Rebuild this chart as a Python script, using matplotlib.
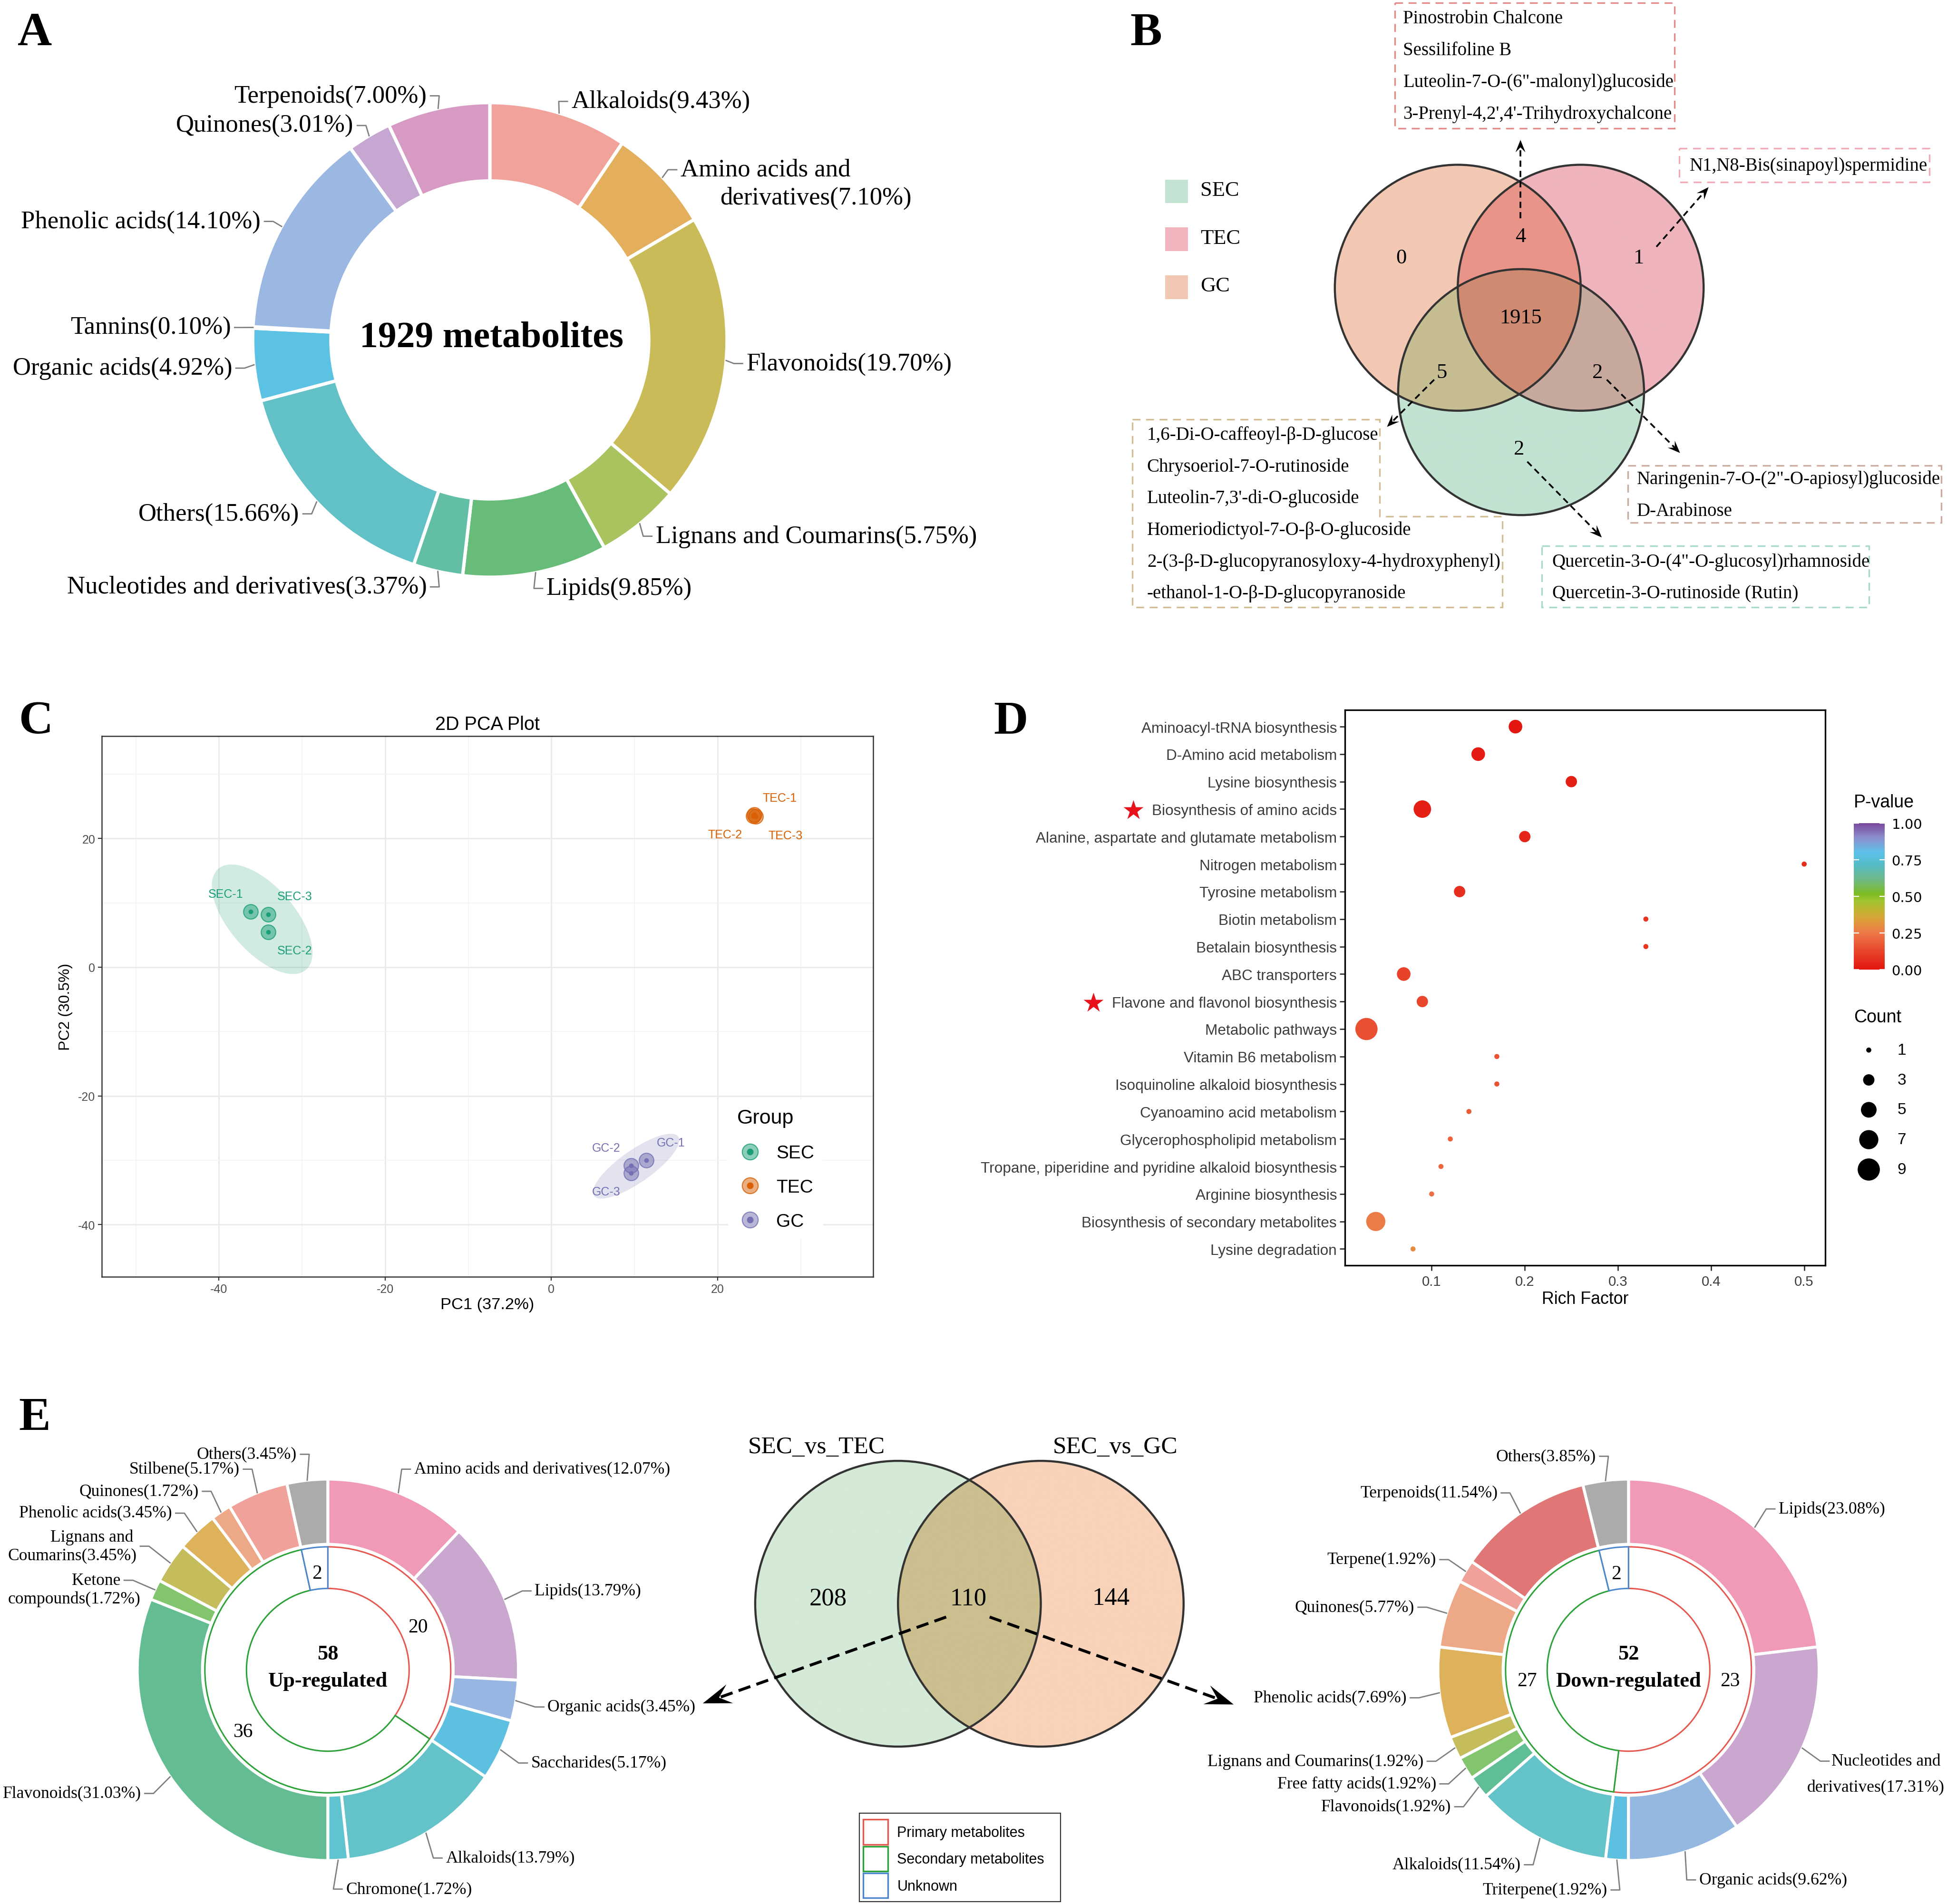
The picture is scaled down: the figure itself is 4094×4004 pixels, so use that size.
import numpy as np
import matplotlib
matplotlib.use('Agg')
import matplotlib.pyplot as plt
from matplotlib import font_manager
from matplotlib.cm import ScalarMappable
from matplotlib.colors import LinearSegmentedColormap, Normalize, to_rgba
from matplotlib.font_manager import FontProperties
from matplotlib.lines import Line2D
from matplotlib.patches import Circle, Ellipse, Polygon, Rectangle

SERIF = 'Liberation Serif'
SANS = 'Liberation Sans'
_installed = {f.name for f in font_manager.fontManager.ttflist}
HAVE_NARROW = 'Liberation Sans Narrow' in _installed
NARROW = 'Liberation Sans Narrow' if HAVE_NARROW else SANS
NF = 1.0 if HAVE_NARROW else 0.84  # shrink long labels when no condensed face exists
plt.rcParams['font.family'] = [SERIF, 'DejaVu Sans']
plt.rcParams['axes.unicode_minus'] = False

# ---------------- data ----------------
# A: class composition of all detected metabolites
a_total = 1929
a_classes = ['Alkaloids', 'Amino acids and derivatives', 'Flavonoids', 'Lignans and Coumarins',
             'Lipids', 'Nucleotides and derivatives', 'Others', 'Organic acids', 'Tannins',
             'Phenolic acids', 'Quinones', 'Terpenoids']
a_pct = [9.43, 7.10, 19.70, 5.75, 9.85, 3.37, 15.66, 4.92, 0.10, 14.10, 3.01, 7.00]
a_colors = ['#F1A29A', '#E3AF5D', '#CABB59', '#A9C45E', '#66BC78', '#62BFA5', '#62C1C7',
            '#5CC2E4', '#8FA8D9', '#9AB8E1', '#C5A7D1', '#D79BC3']

# B: Venn of the three groups, regions keyed by membership (SEC, TEC, GC)
venn_groups = ['SEC', 'TEC', 'GC']
venn_colors = ['#C2E3D1', '#EFB4BC', '#F3C8B3']
venn_counts = {(0, 0, 1): 0, (0, 1, 1): 4, (0, 1, 0): 1, (1, 1, 1): 1915,
               (1, 0, 1): 5, (1, 1, 0): 2, (1, 0, 0): 2}
box_tec_gc = ['Pinostrobin Chalcone', 'Sessilifoline B', 'Luteolin-7-O-(6"-malonyl)glucoside',
              "3-Prenyl-4,2',4'-Trihydroxychalcone"]
box_tec = ['N1,N8-Bis(sinapoyl)spermidine']
box_sec_gc = ['1,6-Di-O-caffeoyl-β-D-glucose', 'Chrysoeriol-7-O-rutinoside',
              "Luteolin-7,3'-di-O-glucoside", 'Homeriodictyol-7-O-β-O-glucoside',
              '2-(3-β-D-glucopyranosyloxy-4-hydroxyphenyl)', '-ethanol-1-O-β-D-glucopyranoside']
box_sec_tec = ['Naringenin-7-O-(2"-O-apiosyl)glucoside', 'D-Arabinose']
box_sec = ['Quercetin-3-O-(4"-O-glucosyl)rhamnoside', 'Quercetin-3-O-rutinoside (Rutin)']

# C: PCA scores
pca_samples = ['SEC-1', 'SEC-2', 'SEC-3', 'TEC-1', 'TEC-2', 'TEC-3', 'GC-1', 'GC-2', 'GC-3']
pca_group = ['SEC', 'SEC', 'SEC', 'TEC', 'TEC', 'TEC', 'GC', 'GC', 'GC']
pc1 = [-36.2, -34.1, -34.1, 24.4, 24.3, 24.6, 11.4, 9.6, 9.6]
pc2 = [8.65, 5.5, 8.2, 23.7, 23.5, 23.4, -30.0, -30.8, -32.0]

# D: KEGG enrichment
pathways = ['Aminoacyl-tRNA biosynthesis', 'D-Amino acid metabolism', 'Lysine biosynthesis',
            'Biosynthesis of amino acids', 'Alanine, aspartate and glutamate metabolism',
            'Nitrogen metabolism', 'Tyrosine metabolism', 'Biotin metabolism',
            'Betalain biosynthesis', 'ABC transporters', 'Flavone and flavonol biosynthesis',
            'Metabolic pathways', 'Vitamin B6 metabolism', 'Isoquinoline alkaloid biosynthesis',
            'Cyanoamino acid metabolism', 'Glycerophospholipid metabolism',
            'Tropane, piperidine and pyridine alkaloid biosynthesis', 'Arginine biosynthesis',
            'Biosynthesis of secondary metabolites', 'Lysine degradation']
rich = [0.19, 0.15, 0.25, 0.09, 0.20, 0.50, 0.13, 0.33, 0.33, 0.07, 0.09, 0.03,
        0.17, 0.17, 0.14, 0.12, 0.11, 0.10, 0.04, 0.08]
counts = [4, 4, 3, 6, 3, 1, 3, 1, 1, 4, 3, 9, 1, 1, 1, 1, 1, 1, 7, 1]
pvals = [0.01, 0.02, 0.03, 0.035, 0.045, 0.06, 0.07, 0.09, 0.09, 0.12, 0.13, 0.15,
         0.16, 0.16, 0.18, 0.20, 0.21, 0.23, 0.26, 0.30]
starred = ['Biosynthesis of amino acids', 'Flavone and flavonol biosynthesis']
count_breaks = [1, 3, 5, 7, 9]

# E: differential metabolites
e_venn_names = ['SEC_vs_TEC', 'SEC_vs_GC']
e_venn_counts = [208, 110, 144]
type_names = ['Primary metabolites', 'Secondary metabolites', 'Unknown']
type_colors = ['#E5574F', '#2BA137', '#4C86CC']

up_total = 58
up_classes = ['Amino acids and derivatives', 'Lipids', 'Organic acids', 'Saccharides', 'Alkaloids',
              'Chromone', 'Flavonoids', 'Ketone compounds', 'Lignans and Coumarins',
              'Phenolic acids', 'Quinones', 'Stilbene', 'Others']
up_pct = [12.07, 13.79, 3.45, 5.17, 13.79, 1.72, 31.03, 1.72, 3.45, 3.45, 1.72, 5.17, 3.45]
up_colors = ['#F09AB7', '#C9A7CF', '#97B7E2', '#5DC0E0', '#64C3C9', '#60C4D0', '#63BC92',
             '#83C56F', '#C5BD5C', '#DEB25B', '#ECA887', '#F0A29A', '#ABABAB']
up_types = [20, 36, 2]
up_type_labels = ['20', '36', '2']

down_total = 52
down_classes = ['Lipids', 'Nucleotides and derivatives', 'Organic acids', 'Triterpene', 'Alkaloids',
                'Flavonoids', 'Free fatty acids', 'Lignans and Coumarins', 'Phenolic acids',
                'Quinones', 'Terpene', 'Terpenoids', 'Others']
down_pct = [23.08, 17.31, 9.62, 1.92, 11.54, 1.92, 1.92, 1.92, 7.69, 5.77, 1.92, 11.54, 3.85]
down_colors = ['#F09AB7', '#C9A7CF', '#95B8E1', '#5DC0E0', '#64C3C9', '#5FBE95', '#83C56F',
               '#C5BD5C', '#DEB25B', '#ECA887', '#F0A29A', '#E07676', '#ABABAB']
# arcs as drawn in the original (the printed numbers sit swapped on the two arcs)
down_types = [27, 23, 2]
down_type_labels = ['23', '27', '2']

# ---------------- figure ----------------
W, H = 1568, 1533  # layout grid in reference pixels
fig = plt.figure(figsize=(4094 / 200, 4005 / 200), dpi=200)
ov = fig.add_axes([0, 0, 1, 1], zorder=5)
ov.set_autoscale_on(False)
ov.set_xlim(0, W)
ov.set_ylim(H, 0)


def panel_letter(x, y, s):
    ov.text(x, y, s, fontsize=36, fontweight='bold', ha='center', va='center', family=SERIF)


def donut(cx, cy, r, width, values, colors, lw):
    return ov.pie(values, colors=colors, radius=r, center=(cx, cy), startangle=-90,
                  counterclock=True, frame=True,
                  wedgeprops=dict(width=width, edgecolor='white', linewidth=lw))[0]


def donut_labels(cx, cy, r, values, names, layout, fs):
    v = np.asarray(values, float)
    mids = (np.cumsum(v) - v / 2) / v.sum() * 2 * np.pi
    for m, name, pct, lay in zip(mids, names, values, layout):
        x, y, ha, brk, x2, y2 = lay[:6]
        text = f'{name}({pct:.2f}%)'
        if brk:
            head, tail = text.split(brk, 1)
            ov.text(x, y, head + brk.rstrip(), ha=ha, va='center', fontsize=fs)
            ov.text(x2, y2, tail, ha=ha, va='center', fontsize=fs)
        else:
            ov.text(x, y, text, ha=ha, va='center', fontsize=fs)
        ex, ey = lay[6] if len(lay) > 6 else ((x - 3, y) if ha == 'left' else (x + 3, y))
        s = 1 if ex > cx else -1
        p0 = (cx + r * np.sin(m), cy - r * np.cos(m))
        ov.plot([p0[0], ex - 7 * s, ex], [p0[1], ey, ey], color='#7F7F7F', lw=1.0)


def venn_fill(circles, region_colors, x0, x1, y0, y1, step=0.25):
    xs = np.arange(x0, x1, step)
    ys = np.arange(y0, y1, step)
    X, Y = np.meshgrid(xs, ys)
    masks = [(X - cx) ** 2 + (Y - cy) ** 2 <= r ** 2 for cx, cy, r in circles]
    img = np.zeros(X.shape + (4,))
    for key, col in region_colors.items():
        m = np.ones(X.shape, bool)
        for inside, mk in zip(key, masks):
            m &= mk if inside else ~mk
        img[m] = to_rgba(col)
    ov.imshow(img, extent=(x0, x1, y1, y0), origin='upper', interpolation='bilinear', zorder=0.5)
    for cx, cy, r in circles:
        ov.add_patch(Circle((cx, cy), r, fill=False, ec='#333333', lw=1.6, zorder=1))


def dash_arrow(x0, y0, x1, y1, hl, hw, lw, dash):
    d = np.array([x1 - x0, y1 - y0], float)
    u = d / np.hypot(*d)
    n = np.array([-u[1], u[0]])
    tip = np.array([x1, y1], float)
    back = tip - u * hl
    notch = tip - u * hl * 0.6
    ov.plot([x0, notch[0]], [y0, notch[1]], color='black', lw=lw, ls=(0, dash), zorder=4)
    ov.add_patch(Polygon([tip, back + n * hw / 2, notch, back - n * hw / 2], closed=True,
                         fc='black', ec='none', zorder=4))


def dashed_box(pts, color, lines, tx, ty0, dy, fs=14):
    ov.add_patch(Polygon(pts, closed=True, fill=False, ec=color, lw=1.2, ls=(0, (5, 3.5))))
    for i, t in enumerate(lines):
        ov.text(tx, ty0 + i * dy, t, fontsize=fs, ha='left', va='center')


# ---- A ----
panel_letter(28, 27, 'A')
donut(394.5, 274, 191, 63, a_pct, a_colors, 2.5)
ov.text(396, 272, f'{a_total} metabolites', fontsize=28, fontweight='bold', ha='center', va='center')
a_layout = [(460, 82, 'left', None, 0, 0),
            (548, 137, 'left', 'and ', 580, 159.5),
            (601, 293, 'left', None, 0, 0),
            (528, 432, 'left', None, 0, 0),
            (440, 474, 'left', None, 0, 0),
            (343.7, 472.8, 'right', None, 0, 0),
            (241, 414, 'right', None, 0, 0),
            (187, 296.7, 'right', None, 0, 0),
            (186, 264, 'right', None, 0, 0),
            (210, 178.6, 'right', None, 0, 0),
            (284.7, 101.4, 'right', None, 0, 0),
            (343.7, 77.5, 'right', None, 0, 0)]
donut_labels(394.5, 274, 191, a_pct, a_classes, a_layout, 19)

# ---- B ----
panel_letter(923, 27, 'B')
circles_b = [(1225, 316, 99), (1273, 232, 99), (1174, 232, 99)]  # SEC, TEC, GC
region_cols = {(0, 0, 1): '#F3C8B3', (0, 1, 0): '#EFB4BC', (1, 0, 0): '#C2E3D1',
               (0, 1, 1): '#E99489', (1, 1, 1): '#CF8A72', (1, 0, 1): '#C6BD92',
               (1, 1, 0): '#C7A99E'}
venn_fill(circles_b, region_cols, 1070, 1378, 128, 420)
count_xy = {(0, 0, 1): (1128.4, 208), (0, 1, 1): (1224.5, 190.8), (0, 1, 0): (1319.5, 208),
            (1, 1, 1): (1224.5, 256), (1, 0, 1): (1161, 300), (1, 1, 0): (1286.7, 300),
            (1, 0, 0): (1223.4, 361.6)}
for key, n in venn_counts.items():
    ov.text(*count_xy[key], str(n), fontsize=16, ha='center', va='center', zorder=3)
for i, (g, c) in enumerate(zip(venn_groups, venn_colors)):
    yy = 145 + i * 38.5
    ov.add_patch(Rectangle((938.3, yy), 18.4, 19, fc=c, ec='none'))
    ov.text(966.6, yy + 8.5, g, fontsize=16, ha='left', va='center')

dashed_box([(1123.3, 2.6), (1348.5, 2.6), (1348.5, 103.7), (1123.3, 103.7)], '#E48A88',
           box_tec_gc, 1130, 15.3, 25.5)
dashed_box([(1352.4, 119.7), (1553.8, 119.7), (1553.8, 146.8), (1352.4, 146.8)], '#F2AAB4',
           box_tec, 1360.8, 133.5, 25.5)
dashed_box([(912, 338), (1111, 338), (1111, 416), (1210, 416), (1210, 489), (912, 489)], '#D3BD95',
           box_sec_gc, 923.7, 350.4, 25.5)
dashed_box([(1311, 375), (1563.4, 375), (1563.4, 421), (1311, 421)], '#C9ABA0',
           box_sec_tec, 1318.3, 386, 25.7)
dashed_box([(1241.8, 439.8), (1505, 439.8), (1505, 489), (1241.8, 489)], '#A9D9CF',
           box_sec, 1250, 452.6, 25.4)
bdash = (3.6, 2.4)
dash_arrow(1224.5, 176, 1224.5, 113, 10, 8, 1.3, bdash)
dash_arrow(1334, 199, 1376, 151, 10, 8, 1.3, bdash)
dash_arrow(1155, 306, 1117, 344, 10, 8, 1.3, bdash)
dash_arrow(1294, 306, 1353, 365, 10, 8, 1.3, bdash)
dash_arrow(1230, 372, 1290, 433, 10, 8, 1.3, bdash)

# ---- C ----
panel_letter(29, 581, 'C')
pca_colors = {'SEC': '#1B9E77', 'TEC': '#D95F02', 'GC': '#7570B3'}
pca_label_xy = {'SEC-1': (-39.2, 11.4), 'SEC-2': (-30.9, 2.6), 'SEC-3': (-30.9, 11.0),
                'TEC-1': (27.5, 26.3), 'TEC-2': (20.9, 20.6), 'TEC-3': (28.2, 20.5),
                'GC-1': (14.4, -27.3), 'GC-2': (6.6, -28.1), 'GC-3': (6.6, -34.9)}
axC = fig.add_axes([82 / W, 1 - 1028 / H, 621 / W, 435 / H])
axC.set_xlim(-54.1, 38.7)
axC.set_ylim(-48.1, 35.9)
axC.set_xticks([-40, -20, 0, 20])
axC.set_yticks([-40, -20, 0, 20])
axC.set_xticks([-50, -30, -10, 10, 30], minor=True)
axC.set_yticks([-30, -10, 10, 30], minor=True)
axC.set_axisbelow(True)
axC.grid(which='major', color='#EBEBEB', lw=1.1)
axC.grid(which='minor', color='#F3F3F3', lw=0.6)
axC.tick_params(which='minor', length=0)
axC.tick_params(which='major', length=3, width=0.8, color='#333333', labelsize=9,
                labelcolor='#4D4D4D', pad=2)
for lab in axC.get_xticklabels() + axC.get_yticklabels():
    lab.set_fontfamily(NARROW)
for sp in axC.spines.values():
    sp.set_color('#333333')
    sp.set_linewidth(0.9)
x1 = np.array(pc1)
y1 = np.array(pc2)
grp = np.array(pca_group)
handles = []
for g in ['SEC', 'TEC', 'GC']:
    col = pca_colors[g]
    xs, ys = x1[grp == g], y1[grp == g]
    vals, vecs = np.linalg.eigh(np.cov(xs, ys))
    ang = np.degrees(np.arctan2(vecs[1, 1], vecs[0, 1]))
    axC.add_patch(Ellipse((xs.mean(), ys.mean()), 2 * 5.0 * np.sqrt(vals[1]),
                          2 * 5.0 * np.sqrt(vals[0]), angle=ang, fc=to_rgba(col, 0.2),
                          ec='none', zorder=1))
    axC.scatter(xs, ys, s=11 ** 2, fc=to_rgba(col, 0.5), ec=to_rgba(col, 0.8), lw=0.8, zorder=3)
    axC.scatter(xs, ys, s=3.5 ** 2, color=col, lw=0, zorder=4)
    handles.append((Line2D([], [], ls='none', marker='o', ms=12, mfc=to_rgba(col, 0.5),
                           mec=to_rgba(col, 0.8), mew=0.8),
                    Line2D([], [], ls='none', marker='o', ms=4, color=col)))
for name, g in zip(pca_samples, pca_group):
    axC.text(*pca_label_xy[name], name, color=pca_colors[g], fontsize=9, family=NARROW,
             ha='center', va='center', zorder=5)
axC.set_title('2D PCA Plot', family=NARROW, fontsize=15.5 * (0.5 + NF / 2), pad=5)
axC.set_xlabel('PC1 (37.2%)', family=NARROW, fontsize=13.5 * (0.5 + NF / 2), labelpad=2)
axC.set_ylabel('PC2 (30.5%)', family=SANS, fontsize=11.5, labelpad=4)
leg = axC.legend(handles, ['SEC', 'TEC', 'GC'], title='Group', loc='upper left',
                 bbox_to_anchor=(0.80, 0.345), frameon=True, facecolor='white', edgecolor='none',
                 framealpha=1, fancybox=False, prop=FontProperties(family=NARROW, size=14),
                 title_fontproperties=FontProperties(family=NARROW, size=15.5),
                 alignment='left', handlelength=1.4, handletextpad=0.7, labelspacing=0.92,
                 borderpad=0.5)

# ---- D ----
panel_letter(814, 581, 'D')
pcmap = LinearSegmentedColormap.from_list('pval', [
    (0.0, '#E3140E'), (0.12, '#E8432A'), (0.25, '#ED7848'), (0.33, '#E09A3C'),
    (0.40, '#C4B232'), (0.47, '#9FC42C'), (0.52, '#7DBB24'), (0.62, '#6EB98A'),
    (0.72, '#55BCC8'), (0.80, '#5CC2EA'), (0.90, '#8C90CF'), (1.0, '#7A4A9D')])
pnorm = Normalize(0, 1)


def count_size(c):
    d = 3.85 + (16.8 - 3.85) * (np.sqrt(np.asarray(c, float)) - 1) / 2
    return d ** 2


axD = fig.add_axes([1083 / W, 1 - 1019 / H, 387 / W, 447 / H])
ypos = np.arange(len(pathways))
axD.scatter(rich, ypos, s=count_size(counts), c=pvals, cmap=pcmap, norm=pnorm, lw=0, zorder=3)
axD.set_yticks(ypos)
axD.set_yticklabels(pathways)
axD.set_ylim(len(pathways) - 0.4, -0.6)
axD.set_xlim(0.0067, 0.5227)
axD.set_xticks([0.1, 0.2, 0.3, 0.4, 0.5])
axD.tick_params(length=4, width=1, color='#333333', labelcolor='#3C3C3C')
axD.tick_params(axis='y', labelsize=13.5 * NF, pad=2)
axD.tick_params(axis='x', labelsize=11.5 * (0.5 + NF / 2), pad=3)
for lab in axD.get_xticklabels() + axD.get_yticklabels():
    lab.set_fontfamily(NARROW)
for sp in axD.spines.values():
    sp.set_linewidth(1.2)
axD.set_xlabel('Rich Factor', family=NARROW, fontsize=14 * (0.5 + NF / 2), labelpad=2)

cax = fig.add_axes([1493 / W, 1 - 781 / H, 25 / W, 118 / H])
cb = fig.colorbar(ScalarMappable(norm=pnorm, cmap=pcmap), cax=cax, ticks=[0, 0.25, 0.5, 0.75, 1])
cb.outline.set_visible(False)
cb.ax.set_yticklabels(['0.00', '0.25', '0.50', '0.75', '1.00'])
cax.tick_params(left=True, right=True, direction='in', color='white', length=4, width=0.8,
                labelsize=10.5, pad=5)
for lab in cax.get_yticklabels():
    lab.set_fontfamily('DejaVu Sans')
ov.text(1493, 646, 'P-value', family=NARROW, fontsize=13.5, ha='left', va='center')
ov.text(1493, 819, 'Count', family=NARROW, fontsize=13.5, ha='left', va='center')
lax = fig.add_axes([1490 / W, 1 - 953.8 / H, 30 / W, 120.2 / H])
lax.set_xlim(-1, 1)
lax.set_ylim(len(count_breaks) - 0.5, -0.5)
lax.scatter(np.zeros(len(count_breaks)), np.arange(len(count_breaks)), s=count_size(count_breaks),
            color='black', lw=0)
for i, b in enumerate(count_breaks):
    lax.text(1.53, i, str(b), family=NARROW, fontsize=12, ha='left', va='center', clip_on=False)
lax.axis('off')

# ---- E ----
panel_letter(28, 1141.7, 'E')
venn_fill([(723.2, 1291.3, 115), (838.2, 1291.3, 115)],
          {(1, 0): '#D4EAD7', (0, 1): '#F9D3B9', (1, 1): '#CCBF8F'}, 600, 960, 1170, 1412)
for (x, y), n in zip([(666.8, 1287), (779.6, 1287), (894.7, 1287)], e_venn_counts):
    ov.text(x, y, str(n), fontsize=19, ha='center', va='center', zorder=3)
for x, name in zip([657.4, 898.3], e_venn_names):
    ov.text(x, 1165, name, fontsize=18.5, ha='center', va='center')
edash = (4.3, 2.2)
dash_arrow(762, 1302, 566, 1371.5, 23, 16, 2.2, edash)
dash_arrow(797, 1302, 993.5, 1372.4, 23, 16, 2.2, edash)

# legend of metabolite types
ov.add_patch(Rectangle((692, 1460), 162, 71, fc='white', ec='#333333', lw=0.8))
for i, (t, c) in enumerate(zip(type_names, type_colors)):
    ov.add_patch(Rectangle((695, 1465 + i * 21.5), 20, 20, fill=False, ec=c, lw=1.2))
    ov.text(722.5, 1475.5 + i * 21.6, t, family=SANS, fontsize=11, ha='left', va='center')


def two_ring(cx, cy, values, colors, types, type_labels, total, word, layout):
    donut(cx, cy, 153.5, 52.5, values, colors, 2.2)
    wedges = ov.pie(types, radius=99, center=(cx, cy), startangle=-90, counterclock=True,
                    frame=True, wedgeprops=dict(width=33.5, lw=1.1))[0]
    for w, c in zip(wedges, type_colors):
        w.set_facecolor('white')
        w.set_edgecolor(c)
    t = np.asarray(types, float)
    mids = (np.cumsum(t) - t / 2) / t.sum() * 2 * np.pi
    for m, lab in zip(mids, type_labels):
        ov.text(cx + 82 * np.sin(m), cy - 82 * np.cos(m) + 4, lab, fontsize=15,
                ha='center', va='center')
    ov.text(cx, cy - 13, str(total), fontsize=16, fontweight='bold', ha='center', va='center')
    ov.text(cx, cy + 9, word, fontsize=16, fontweight='bold', ha='center', va='center')
    donut_labels(cx, cy, 153.5, values, layout[0], layout[1], 12.8)


up_layout = [(333.5, 1183, 'left', None, 0, 0),
             (430.6, 1281, 'left', None, 0, 0),
             (441, 1374.4, 'left', None, 0, 0),
             (427.7, 1419.5, 'left', None, 0, 0),
             (359, 1496, 'left', None, 0, 0),
             (278.5, 1521, 'left', None, 0, 0),
             (113.6, 1444, 'right', None, 0, 0),
             (97, 1272.4, 'right', 'Ketone ', 113, 1287.3),
             (107.4, 1237.7, 'right', 'and ', 110, 1252.3, (113, 1245)),
             (138.5, 1218.4, 'right', None, 0, 0),
             (160, 1200.8, 'right', None, 0, 0),
             (193, 1183, 'right', None, 0, 0),
             (239, 1171, 'right', None, 0, 0)]
two_ring(264, 1344.5, up_pct, up_colors, up_types, up_type_labels, up_total, 'Up-regulated',
         (up_classes, up_layout))

down_layout = [(1432.4, 1215, 'left', None, 0, 0),
               (1563, 1418, 'right', 'and ', 1566, 1439, (1473, 1418)),
               (1368.4, 1513.6, 'left', None, 0, 0),
               (1294.5, 1521.7, 'right', None, 0, 0),
               (1224.7, 1501.4, 'right', None, 0, 0),
               (1168.6, 1454.7, 'right', None, 0, 0),
               (1156.6, 1436.3, 'right', None, 0, 0),
               (1146.4, 1418.1, 'right', None, 0, 0),
               (1132.8, 1367, 'right', None, 0, 0),
               (1139, 1294.1, 'right', None, 0, 0),
               (1156.6, 1255.8, 'right', None, 0, 0),
               (1206, 1202.1, 'right', None, 0, 0),
               (1285.3, 1172.6, 'right', None, 0, 0)]
two_ring(1311.5, 1344.5, down_pct, down_colors, down_types, down_type_labels, down_total,
         'Down-regulated', (down_classes, down_layout))

# ---- finish overlay and stars next to highlighted pathways ----
ov.set_xlim(0, W)
ov.set_ylim(H, 0)
ov.set_aspect('auto')
ov.axis('off')
fig.canvas.draw()
fw, fh = fig.canvas.get_width_height()
for lab in axD.get_yticklabels():
    if lab.get_text() in starred:
        bb = lab.get_window_extent()
        xr = bb.x0 / fw * W
        yr = (1 - (bb.y0 + bb.y1) / 2 / fh) * H
        ov.plot(xr - 15, yr, marker='*', ms=16, color='#E8121C', mec='none', clip_on=False)

fig.savefig('out.png', dpi=200)
